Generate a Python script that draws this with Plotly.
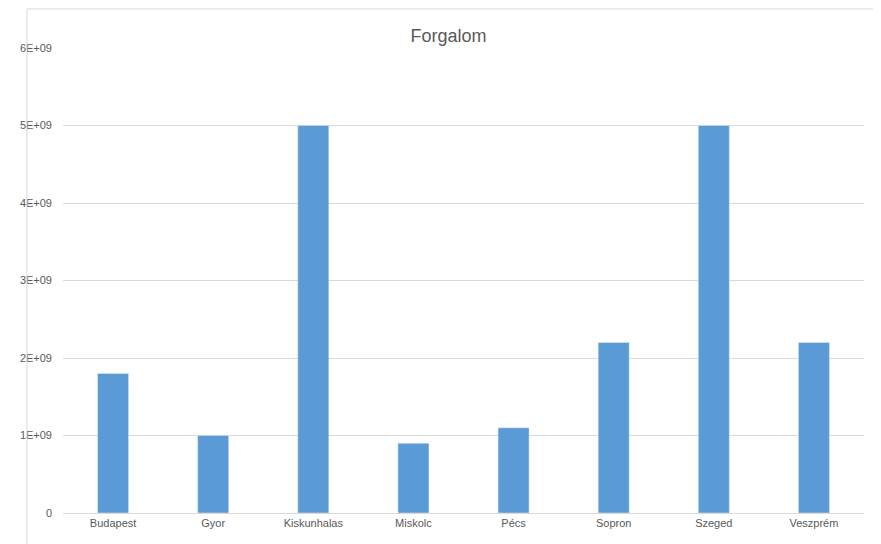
import plotly.graph_objects as go

cities = ["Budapest", "Gyor", "Kiskunhalas", "Miskolc", "Pécs", "Sopron", "Szeged", "Veszprém"]
forgalom = [1.8e9, 1.0e9, 5.0e9, 0.9e9, 1.1e9, 2.2e9, 5.0e9, 2.2e9]
y_ticks = [0, 1e9, 2e9, 3e9, 4e9, 5e9, 6e9]
y_labels = ["0", "1E+09", "2E+09", "3E+09", "4E+09", "5E+09", "6E+09"]

fig = go.Figure(
    go.Bar(x=cities, y=forgalom, marker_color="#5B9BD5", width=0.31)
)
fig.update_layout(
    width=881,
    height=544,
    title=dict(text="Forgalom", x=0.5, y=0.96, font=dict(size=18, color="#595959")),
    font=dict(family="Liberation Sans, Arial", size=11, color="#595959"),
    paper_bgcolor="white",
    plot_bgcolor="white",
    margin=dict(l=38, r=25, t=40, b=39),
    showlegend=False,
    shapes=[dict(type="rect", xref="paper", yref="paper", x0=-0.045, x1=1.029,
                 y0=-0.081, y1=1.084, line=dict(color="#D9D9D9", width=1))],
)
fig.update_yaxes(range=[0, 6e9], tickvals=y_ticks, ticktext=y_labels,
                 gridcolor="#D9D9D9", zeroline=False, ticks="", ticklabelstandoff=10)
fig.update_xaxes(showline=True, linecolor="#D9D9D9", ticks="")
fig.write_html("out.html")
